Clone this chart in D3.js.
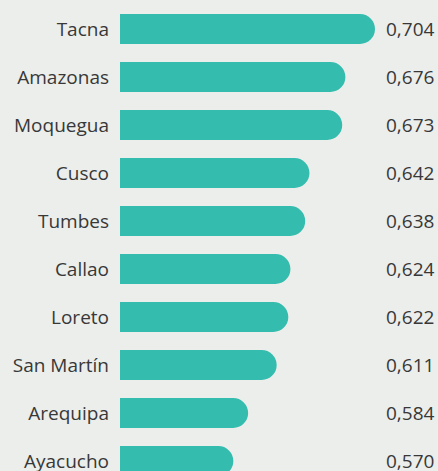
<!DOCTYPE html>
<html>
<head>
<meta charset="utf-8">
<script src="https://cdn.jsdelivr.net/npm/d3@7"></script>
<style>
  html, body { margin: 0; padding: 0; background: #eceeeb; }
  svg { display: block; }
  text { font-family: "Open Sans", sans-serif; fill: #383838; }
</style>
</head>
<body>
<svg id="chart"></svg>
<script>
// Data
const regions = ["Tacna", "Amazonas", "Moquegua", "Cusco", "Tumbes", "Callao", "Loreto", "San Martín", "Arequipa", "Ayacucho"];
const values = [0.704, 0.676, 0.673, 0.642, 0.638, 0.624, 0.622, 0.611, 0.584, 0.570];
const valueLabels = ["0,704", "0,676", "0,673", "0,642", "0,638", "0,624", "0,622", "0,611", "0,584", "0,570"];

const width = 438, height = 471;
const barH = 30, step = 48, marginTop = 14;

const svg = d3.select("#chart").attr("width", width).attr("height", height);

// bars don't start at zero in the original, base is ~0.463
const x = d3.scaleLinear().domain([0.4628, 0.704]).range([120, 375]);
// range end trimmed by one gap so that every row is exactly `step` apart
const y = d3.scaleBand().domain(regions)
  .range([marginTop, marginTop + step * regions.length - (step - barH)])
  .paddingInner((step - barH) / step).paddingOuter(0);

// bar with rounded right end only
function barPath(x0, x1, y0, h) {
  const r = h / 2;
  return `M${x0},${y0}H${x1 - r}A${r},${r} 0 0 1 ${x1 - r},${y0 + h}H${x0}Z`;
}

const rows = svg.selectAll("g.row")
  .data(regions.map((r, i) => ({ name: r, value: values[i], label: valueLabels[i] })))
  .join("g").attr("class", "row");

rows.append("path")
  .attr("d", d => barPath(x.range()[0], x(d.value), y(d.name), y.bandwidth()))
  .attr("fill", "#34bdae");

rows.append("text")
  .attr("x", 109)
  .attr("y", d => y(d.name) + y.bandwidth() / 2)
  .attr("dy", "0.38em")
  .attr("text-anchor", "end")
  .attr("font-size", 19)
  .text(d => d.name);

rows.append("text")
  .attr("x", 386)
  .attr("y", d => y(d.name) + y.bandwidth() / 2)
  .attr("dy", "0.38em")
  .attr("font-size", 19)
  .text(d => d.label);
</script>
</body>
</html>
